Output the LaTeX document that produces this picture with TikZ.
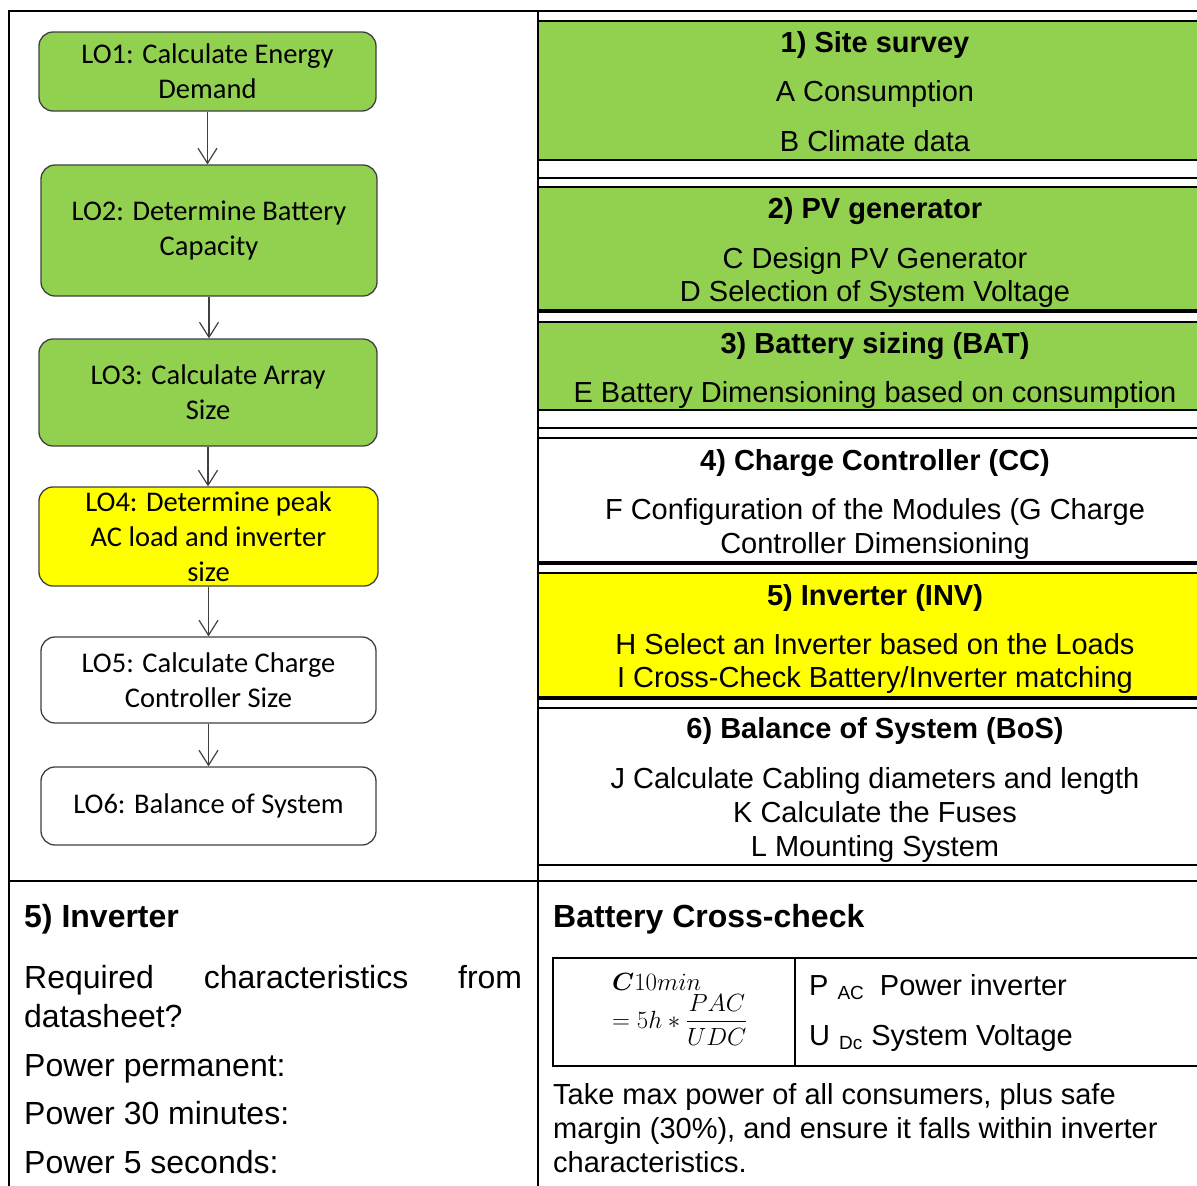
\documentclass[tikz,border=0pt]{standalone}
\usepackage{fontspec}
\usepackage{amsmath,amsbsy}
\setmainfont{Liberation Sans}
\newfontfamily\calib{Carlito}
\usetikzlibrary{arrows.meta}
\definecolor{lgreen}{HTML}{92D050}
\definecolor{lyellow}{HTML}{FFFF00}
\definecolor{bordergray}{HTML}{404040}
\begin{document}
\begin{tikzpicture}[x=1pt,y=-1pt,
  lob/.style={draw=bordergray, line width=1.3pt, rounded corners=14pt, align=center, inner sep=0pt,
    font=\calib\fontsize{28.5}{35}\selectfont, text=black},
  arr/.style={line width=1.2pt, draw=bordergray, -{Straight Barb[length=15pt,width=19pt,line width=1.2pt]}},
  tl/.style={line width=2pt, draw=black},
  thk/.style={line width=4pt, draw=black},
  rt/.style={inner sep=0pt, anchor=base, font=\fontsize{29}{34}\selectfont},
  bt/.style={inner sep=0pt, anchor=base west, font=\fontsize{32}{38}\selectfont},
  ct/.style={inner sep=0pt, anchor=base west, font=\fontsize{29}{34}\selectfont},
  mt/.style={inner sep=0pt, anchor=base west, font=\fontsize{23}{27}\selectfont}
]
\useasboundingbox (0,0) rectangle (1197,1186);
\clip (0,0) rectangle (1197,1186);
% ---------- right cell fills ----------
\fill[lgreen] (538,21) rectangle (1200,160);
\fill[lgreen] (538,187) rectangle (1200,311);
\fill[lgreen] (538,322) rectangle (1200,410);
\fill[lyellow] (538,573) rectangle (1200,697);
% ---------- right cell lines ----------
\foreach \yy in {21,160,178,187,322,410,428,438,573,707.5,865}
  \draw[tl] (538,\yy) -- (1200,\yy);
\foreach \yy in {311,562.5,698}
  \draw[thk] (538,\yy) -- (1200,\yy);
% ---------- outer table ----------
\draw[tl] (8,11) -- (1200,11);
\draw[tl] (9,10) -- (9,1190);
\draw[tl] (537.5,10) -- (537.5,1190);
\draw[tl] (8,881) -- (1200,881);
% ---------- flowchart ----------
\node[lob, fill=lgreen, minimum width=337, minimum height=79] (lo1) at (207.5,71.5) {LO1: Calculate Energy\\Demand};
\node[lob, fill=lgreen, minimum width=336, minimum height=131] (lo2) at (209,230.5) {LO2: Determine Battery\\Capacity};
\node[lob, fill=lgreen, minimum width=338, minimum height=107] (lo3) at (208,392.5) {LO3: Calculate Array\\Size};
\node[lob, fill=lyellow, minimum width=339, minimum height=99] (lo4) at (208.5,536.5) {LO4: Determine peak\\AC load and inverter\\size};
\node[lob, fill=white, minimum width=335, minimum height=86] (lo5) at (208.5,680) {LO5: Calculate Charge\\Controller Size};
\node[lob, fill=white, minimum width=335, minimum height=78] (lo6) at (208.5,806) {LO6: Balance of System};
\draw[arr] (lo1.south) -- (lo1.south |- lo2.north);
\draw[arr] (lo2.south) -- (lo2.south |- lo3.north);
\draw[arr] (lo3.south) -- (lo3.south |- lo4.north);
\draw[arr] (lo4.south) -- (lo4.south |- lo5.north);
\draw[arr] (lo5.south) -- (lo5.south |- lo6.north);
% ---------- right cell texts ----------
\node[rt] (r1a) at (875,52) {\bfseries 1) Site survey};
\node[rt] (r1b) at (875,101) {A Consumption};
\node[rt] (r1c) at (875,151) {B Climate data};
\node[rt] (r2a) at (875,218) {\bfseries 2) PV generator};
\node[rt] (r2b) at (875,268) {C Design PV Generator};
\node[rt] (r2c) at (875,301) {D Selection of System Voltage};
\node[rt] (r3a) at (875,353) {\bfseries 3) Battery sizing (BAT)};
\node[rt] (r3b) at (875,402) {E Battery Dimensioning based on consumption};
\node[rt] (r4a) at (875,470) {\bfseries 4) Charge Controller (CC)};
\node[rt] (r4b) at (875,519) {F Configuration of the Modules (G Charge};
\node[rt] (r4c) at (875,553) {Controller Dimensioning};
\node[rt] (r5a) at (875,605) {\bfseries 5) Inverter (INV)};
\node[rt] (r5b) at (875,654) {H Select an Inverter based on the Loads};
\node[rt] (r5c) at (875,687) {I Cross-Check Battery/Inverter matching};
\node[rt] (r6a) at (875,738) {\bfseries 6) Balance of System (BoS)};
\node[rt] (r6b) at (875,788) {J Calculate Cabling diameters and length};
\node[rt] (r6c) at (875,822) {K Calculate the Fuses};
\node[rt] (r6d) at (875,856) {L Mounting System};
% ---------- bottom left ----------
\node[bt] (b1) at (24,927) {\bfseries 5) Inverter};
\node[bt] (b2) at (24,988) {\makebox[498pt][s]{Required\hfill characteristics\hfill from}};
\node[bt] (b3) at (24,1027) {datasheet?};
\node[bt] (b4) at (24,1076) {Power permanent:};
\node[bt] (b5) at (24,1124) {Power 30 minutes:};
\node[bt] (b6) at (24,1173) {Power 5 seconds:};
% ---------- bottom right ----------
\node[bt] (c1) at (553,927) {\bfseries Battery Cross-check};
\draw[tl] (553,958) rectangle (1200,1066);
\draw[tl] (795,958) -- (795,1066);
\node[mt] (f1) at (612,990) {$\boldsymbol{C}10min$};
\node[mt] (f2) at (612,1028) {$=5h*\dfrac{PAC}{UDC}$};
\node[ct] (c2) at (809,995) {P\hspace{9pt}\raisebox{-4pt}{\fontsize{19}{19}\selectfont AC}\hspace{16pt}Power inverter};
\node[ct] (c3) at (809,1045) {U\hspace{9pt}\raisebox{-4pt}{\fontsize{19}{19}\selectfont Dc}\hspace{9pt}System Voltage};
\node[ct] (c4) at (553,1104) {Take max power of all consumers, plus safe};
\node[ct] (c5) at (553,1138) {margin (30\%), and ensure it falls within inverter};
\node[ct] (c6) at (553,1172) {characteristics.};
\end{tikzpicture}
\end{document}
